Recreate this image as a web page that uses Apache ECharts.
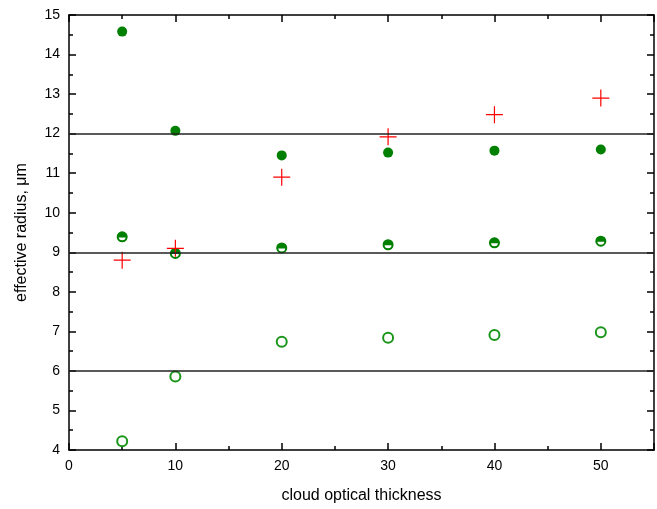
<!DOCTYPE html>
<html>
<head>
<meta charset="utf-8">
<script src="https://cdn.jsdelivr.net/npm/echarts@6/dist/echarts.min.js"></script>
<style>
html,body{margin:0;padding:0;background:#fff;}
#chart{width:657px;height:509px;}
</style>
</head>
<body>
<div id="chart"></div>
<script>
var tau = [5, 10, 20, 30, 40, 50];
var reFilled = [14.58, 12.07, 11.45, 11.52, 11.57, 11.6];
var reHalf = [9.39, 8.97, 9.11, 9.19, 9.24, 9.28];
var reOpen = [4.22, 5.86, 6.74, 6.84, 6.91, 6.98];
var reCross = [8.8, 9.1, 10.9, 11.92, 12.48, 12.9];
var refLines = [6, 9, 12];

function pairs(ys){
	var out = [];
	for (var i = 0; i < tau.length; i++) out.push([tau[i], ys[i]]);
	return out;
}

var green = '#008000';
var font = 'Liberation Sans, Arial, sans-serif';

var chart = echarts.init(document.getElementById('chart'));
var baseX = {
	type: 'value', min: 0, max: 55, interval: 10,
	axisLine: {show: true, onZero: false, lineStyle: {color: '#000', width: 1.5}},
	axisTick: {inside: true, length: 7, lineStyle: {color: '#000', width: 1.5}},
	minorTick: {show: true, splitNumber: 2, length: 4, lineStyle: {color: '#000', width: 1.5}},
	splitLine: {show: false}
};
var baseY = {
	type: 'value', min: 4, max: 15, interval: 1,
	axisLine: {show: true, onZero: false, lineStyle: {color: '#000', width: 1.5}},
	axisTick: {inside: true, length: 7, lineStyle: {color: '#000', width: 1.5}},
	minorTick: {show: true, splitNumber: 2, length: 4, lineStyle: {color: '#000', width: 1.5}},
	splitLine: {show: false}
};

chart.setOption({
	animation: false,
	grid: {left: 69, right: 3, top: 15, bottom: 58},
	xAxis: [
		echarts.util.merge({
			position: 'bottom',
			name: 'cloud optical thickness', nameLocation: 'middle', nameGap: 38,
			nameTextStyle: {fontFamily: font, fontSize: 16, color: '#000'},
			axisLabel: {fontFamily: font, fontSize: 14, color: '#000', margin: 9,
				showMaxLabel: false}
		}, baseX, true),
		echarts.util.merge({position: 'top', axisLabel: {show: false}}, baseX, true)
	],
	yAxis: [
		echarts.util.merge({
			position: 'left',
			name: 'effective radius, \u03bcm', nameLocation: 'middle', nameGap: 39,
			nameTextStyle: {fontFamily: font, fontSize: 16, color: '#000'},
			axisLabel: {fontFamily: font, fontSize: 14, color: '#000', margin: 9}
		}, baseY, true),
		echarts.util.merge({position: 'right', axisLabel: {show: false}}, baseY, true)
	],
	series: [
		{
			type: 'line', data: [], silent: true,
			markLine: {
				silent: true, symbol: 'none', label: {show: false},
				lineStyle: {color: '#222', type: 'solid', width: 1.5},
				data: refLines.map(function(v){ return {yAxis: v}; })
			}
		},
		{
			type: 'scatter', data: pairs(reFilled), symbol: 'circle', symbolSize: 10,
			itemStyle: {color: green, opacity: 1}
		},
		{
			type: 'scatter', data: pairs(reHalf), symbol: 'emptyCircle', symbolSize: 9,
			itemStyle: {color: green, borderColor: green, borderWidth: 1, opacity: 1}
		},
		{
			type: 'scatter', data: pairs(reHalf), symbol: 'path://M0,5 A5,5 0 0 1 10,5 Z',
			symbolSize: [10, 5.5], symbolOffset: [0, -2.2], symbolKeepAspect: false,
			itemStyle: {color: green, opacity: 1}
		},
		{
			type: 'scatter', data: pairs(reOpen), symbol: 'emptyCircle', symbolSize: 10,
			itemStyle: {color: '#1a961a', borderColor: '#1a961a', borderWidth: 1, opacity: 1}
		},
		{
			type: 'scatter', data: pairs(reCross), symbol: 'path://M0,5 L10,5 M5,0 L5,10',
			symbolSize: 17,
			itemStyle: {color: 'none', borderColor: '#ff0000', borderWidth: 1.2, opacity: 1}
		}
	]
});
</script>
</body>
</html>
